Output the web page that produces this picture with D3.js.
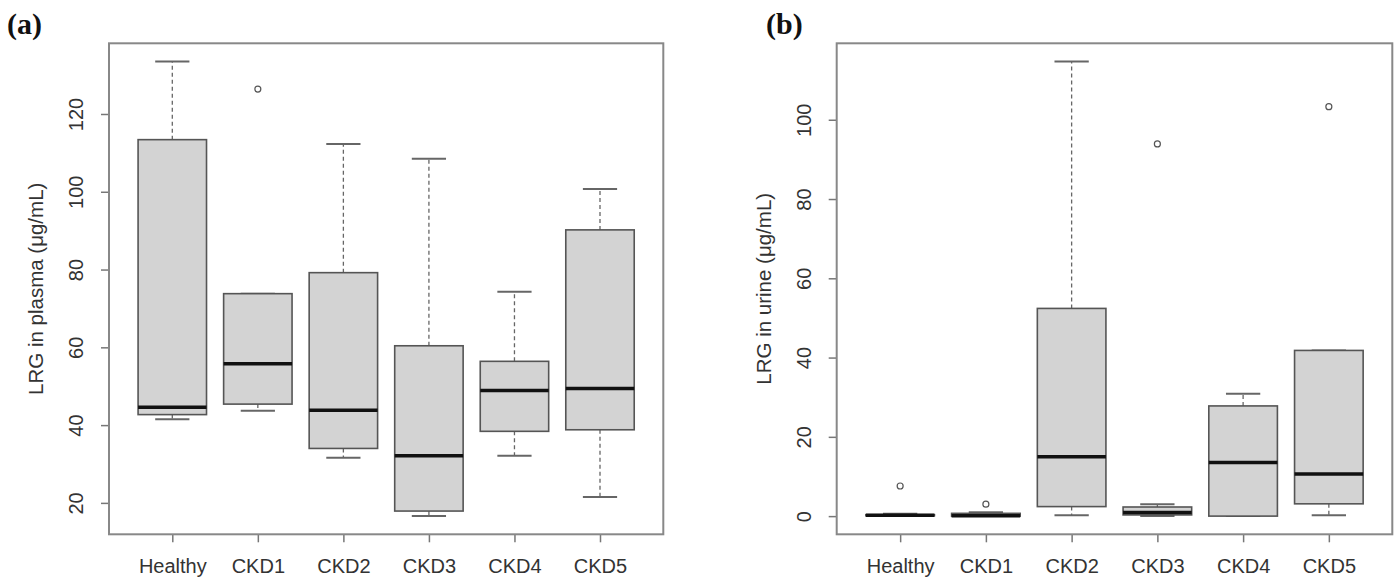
<!DOCTYPE html>
<html>
<head>
<meta charset="utf-8">
<script src="https://cdn.jsdelivr.net/npm/d3@7"></script>
<style>
  body { margin: 0; background: #fff; }
  svg { display: block; }
  text { font-family: "Liberation Sans", Arial, sans-serif; }
</style>
</head>
<body>
<svg id="chart" width="1400" height="581"></svg>
<script>
// groups on the x axis
const categories = ["Healthy", "CKD1", "CKD2", "CKD3", "CKD4", "CKD5"];

// (a) LRG in plasma, µg/mL  (whisker ends, quartiles, median, outliers)
const plasmaLow  = [41.5, 43.7, 31.6, 16.6, 32.1, 21.5];
const plasmaQ1   = [42.7, 45.4, 34.0, 17.9, 38.4, 38.8];
const plasmaMed  = [44.6, 55.8, 43.8, 32.1, 48.9, 49.4];
const plasmaQ3   = [113.4, 73.8, 79.2, 60.4, 56.4, 90.2];
const plasmaHigh = [133.5, 73.8, 112.3, 108.5, 74.3, 100.7];
const plasmaOut  = [[], [126.4], [], [], [], []];
const plasmaTicks = [20, 40, 60, 80, 100, 120];

// (b) LRG in urine, µg/mL
const urineLow  = [0, 0, 0.2, 0, 0, 0.2];
const urineQ1   = [0.1, 0, 2.4, 0.3, 0, 3.1];
const urineMed  = [0.2, 0.1, 15.0, 0.9, 13.5, 10.6];
const urineQ3   = [0.35, 0.7, 52.4, 2.3, 27.8, 41.8];
const urineHigh = [0.6, 1.0, 114.7, 3.0, 30.9, 41.8];
const urineOut  = [[7.6], [3.0], [], [93.9], [], [103.3]];
const urineTicks = [0, 20, 40, 60, 80, 100];

const svg = d3.select("#chart");
svg.append("rect").attr("width", 1400).attr("height", 581).attr("fill", "#fff");

function panel(opt) {
  const { left, right, top, bottom } = opt;
  const stats = categories.map((c, i) => ({
    name: c, pos: i + 1,
    low: opt.low[i], q1: opt.q1[i], med: opt.med[i], q3: opt.q3[i], high: opt.high[i],
    out: opt.out[i]
  }));

  // R-style 4% padding on both axes
  const all = stats.flatMap(d => [d.low, d.high, ...d.out]);
  const [mn, mx] = d3.extent(all);
  const pad = (mx - mn) * 0.04;
  const y = d3.scaleLinear().domain([mn - pad, mx + pad]).range([bottom, top]);
  const x = d3.scaleLinear().domain([0.5 - 0.24, 6.5 + 0.24]).range([left, right]);

  const g = svg.append("g");

  // boxes
  const box = g.selectAll("g.box").data(stats).join("g").attr("class", "box");
  const halfW = 0.4, halfS = 0.2;

  box.append("line")
    .attr("x1", d => x(d.pos)).attr("x2", d => x(d.pos))
    .attr("y1", d => y(d.q3)).attr("y2", d => y(d.high))
    .attr("stroke", "#666").attr("stroke-width", 1.3).attr("stroke-dasharray", "4,3");
  box.append("line")
    .attr("x1", d => x(d.pos)).attr("x2", d => x(d.pos))
    .attr("y1", d => y(d.q1)).attr("y2", d => y(d.low))
    .attr("stroke", "#666").attr("stroke-width", 1.3).attr("stroke-dasharray", "4,3");
  box.append("line")
    .attr("x1", d => x(d.pos - halfS)).attr("x2", d => x(d.pos + halfS))
    .attr("y1", d => y(d.high)).attr("y2", d => y(d.high))
    .attr("stroke", "#666").attr("stroke-width", 2);
  box.append("line")
    .attr("x1", d => x(d.pos - halfS)).attr("x2", d => x(d.pos + halfS))
    .attr("y1", d => y(d.low)).attr("y2", d => y(d.low))
    .attr("stroke", "#666").attr("stroke-width", 2);
  box.append("rect")
    .attr("x", d => x(d.pos - halfW))
    .attr("width", d => x(d.pos + halfW) - x(d.pos - halfW))
    .attr("y", d => y(d.q3))
    .attr("height", d => y(d.q1) - y(d.q3))
    .attr("fill", "#d3d3d3").attr("stroke", "#555").attr("stroke-width", 1.6);
  box.append("line")
    .attr("x1", d => x(d.pos - halfW)).attr("x2", d => x(d.pos + halfW))
    .attr("y1", d => y(d.med)).attr("y2", d => y(d.med))
    .attr("stroke", "#111").attr("stroke-width", 3.5);
  box.selectAll("circle").data(d => d.out.map(v => ({ pos: d.pos, v }))).join("circle")
    .attr("cx", d => x(d.pos)).attr("cy", d => y(d.v)).attr("r", 3)
    .attr("fill", "none").attr("stroke", "#555").attr("stroke-width", 1.2);

  // axes
  const xAxis = g.append("g").attr("transform", `translate(0,${bottom})`)
    .call(d3.axisBottom(x).tickValues(d3.range(1, 7)).tickSize(8)
      .tickFormat(i => categories[i - 1]));
  xAxis.select(".domain").remove();
  xAxis.selectAll("line").attr("stroke", "#777").attr("stroke-width", 1.5);
  xAxis.selectAll("text").attr("y", 38.7).attr("dy", null)
    .attr("font-size", 20).attr("fill", "#333")
    .style("font-family", '"Liberation Sans", Arial, sans-serif');

  const yAxis = g.append("g").attr("transform", `translate(${left},0)`)
    .call(d3.axisLeft(y).tickValues(opt.ticks).tickSize(8));
  yAxis.select(".domain").remove();
  yAxis.selectAll("line").attr("stroke", "#777").attr("stroke-width", 1.5);
  yAxis.selectAll("text").attr("x", null).attr("dy", null)
    .attr("transform", "translate(-26,0) rotate(-90)")
    .attr("text-anchor", "middle")
    .attr("font-size", 20).attr("fill", "#333")
    .style("font-family", '"Liberation Sans", Arial, sans-serif');

  // frame
  g.append("rect")
    .attr("x", left).attr("y", top)
    .attr("width", right - left).attr("height", bottom - top)
    .attr("fill", "none").attr("stroke", "#888").attr("stroke-width", 2);

  // axis title
  g.append("text")
    .attr("transform", `translate(${left - 66},${(top + bottom) / 2}) rotate(-90)`)
    .attr("text-anchor", "middle")
    .attr("font-size", 20.5).attr("fill", "#333")
    .text(opt.title);

  // panel tag
  g.append("text")
    .attr("x", opt.tagX).attr("y", 34)
    .attr("font-size", 30).attr("font-weight", "bold")
    .style("font-family", '"Liberation Serif", "Times New Roman", serif')
    .attr("fill", "#111")
    .text(opt.tag);
}

panel({
  left: 109, right: 663.3, top: 43.3, bottom: 534.3,
  low: plasmaLow, q1: plasmaQ1, med: plasmaMed, q3: plasmaQ3, high: plasmaHigh, out: plasmaOut,
  ticks: plasmaTicks, title: "LRG in plasma (μg/mL)", tag: "(a)", tagX: 7
});
panel({
  left: 836.7, right: 1392.3, top: 43.3, bottom: 534.3,
  low: urineLow, q1: urineQ1, med: urineMed, q3: urineQ3, high: urineHigh, out: urineOut,
  ticks: urineTicks, title: "LRG in urine (μg/mL)", tag: "(b)", tagX: 766
});
</script>
</body>
</html>
